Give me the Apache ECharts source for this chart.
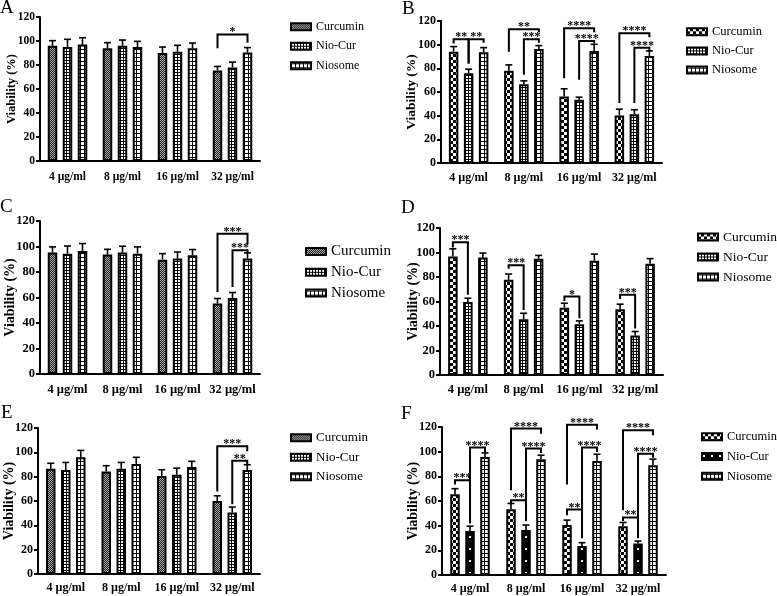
<!DOCTYPE html>
<html><head><meta charset="utf-8">
<script src="https://cdn.jsdelivr.net/npm/echarts@6/dist/echarts.min.js"></script>
<style>html,body{margin:0;padding:0;background:#fff}#c{width:777px;height:596px}</style>
</head><body><div id="c"></div><script>
// ---------- data ----------
const categories = ['4 µg/ml', '8 µg/ml', '16 µg/ml', '32 µg/ml'];
const seriesNames = ['Curcumin', 'Nio-Cur', 'Niosome'];
const panelLetters = ['A', 'B', 'C', 'D', 'E', 'F'];
const yMin = 0, yMax = 120, yStep = 20;

// Panel A
const aCurcumin = [96, 94, 90, 75.5];
const aCurcuminErr = [4.3, 4.6, 5, 3.3];
const aNioCur = [95, 96, 91, 78];
const aNioCurErr = [6.4, 4.8, 5.4, 4.4];
const aNiosome = [97, 95, 94, 90.4];
const aNiosomeErr = [5.7, 4.7, 4.3, 4.1];
// [category, from series, to series, top, left leg end, right leg end, label]
const aBrackets = [[3, 0, 2, 105.5, 94, 98.6, '*']];

// Panel B
const bCurcumin = [94.1, 77.9, 56.2, 40.2];
const bCurcuminErr = [4.3, 5, 6.5, 5.3];
const bNioCur = [75.9, 66.6, 53.4, 41.3];
const bNioCurErr = [3.4, 2.8, 2.2, 3.7];
const bNiosome = [93.6, 96.4, 94.7, 90.5];
const bNiosomeErr = [3.9, 2.8, 5.6, 4.2];
const bBrackets = [
  [0, 0, 1, 104.6, 101, 84, '**'],
  [0, 1, 2, 104.6, 84, 101.7, '**'],
  [1, 0, 2, 113, 94, 110.5, '**'],
  [1, 1, 2, 104.6, 74.5, 101.7, '***'],
  [2, 0, 2, 113.8, 71.7, 110.5, '****'],
  [2, 1, 2, 103.1, 70.3, 101.2, '****'],
  [3, 0, 2, 109.6, 50.6, 106.2, '****'],
  [3, 1, 2, 97.5, 50.6, 94.2, '****']
];

// Panel C
const cCurcumin = [95.2, 93.7, 89.7, 55.3];
const cCurcuminErr = [4.5, 4.1, 4.7, 3.9];
const cNioCur = [94.4, 95.2, 90.5, 59.7];
const cNioCurErr = [6, 5, 5.2, 4.2];
const cNiosome = [96.5, 94.4, 93.1, 90.5];
const cNiosomeErr = [5.8, 5.3, 4.5, 4.5];
const cBrackets = [
  [3, 0, 2, 110, 64.4, 102, '***'],
  [3, 1, 2, 97, 68.3, 94.5, '***']
];

// Panel D
const dCurcumin = [96.8, 77.7, 55, 53.7];
const dCurcuminErr = [6.2, 4.7, 3.6, 4.1];
const dNioCur = [59.5, 45.5, 41.5, 32.2];
const dNioCurErr = [3.2, 4.9, 2.7, 3.3];
const dNiosome = [96, 94.9, 93.3, 90.8];
const dNiosomeErr = [3.5, 2.7, 5.4, 4.2];
const dBrackets = [
  [0, 0, 1, 108.3, 104, 65.5, '***'],
  [1, 0, 1, 89.5, 86.7, 53, '***'],
  [2, 0, 1, 64, 60.5, 46.4, '*'],
  [3, 0, 1, 65.5, 62, 38, '***']
];

// Panel E
const eCurcumin = [86.5, 84.3, 80.5, 59.9];
const eCurcuminErr = [4.5, 4.7, 5.2, 4.4];
const eNioCur = [85.4, 86.5, 81.6, 50.5];
const eNioCurErr = [6.3, 5.2, 5.4, 4.5];
const eNiosome = [95.9, 90.4, 88, 85.4];
const eNiosomeErr = [5.7, 5.5, 4.6, 4.4];
const eBrackets = [
  [3, 0, 2, 105, 67.8, 100.8, '***'],
  [3, 1, 2, 93, 57.4, 89.8, '**']
];

// Panel F
const fCurcumin = [65.5, 53.4, 40.5, 39.6];
const fCurcuminErr = [4.5, 4.6, 4, 3];
const fNioCur = [35.6, 36.4, 23.5, 25.6];
const fNioCurErr = [4, 4.1, 2.7, 1.9];
const fNiosome = [95.7, 93.9, 92.5, 89];
const fNiosomeErr = [3.3, 3.2, 5.4, 4.9];
const fBrackets = [
  [0, 0, 1, 76.9, 73.4, 41.8, '***'],
  [0, 1, 2, 103.3, 50, 99.8, '****'],
  [1, 0, 2, 118.7, 68.8, 114.6, '****'],
  [1, 1, 2, 102.5, 54, 99, '****'],
  [1, 0, 1, 60.7, 57.2, 43.7, '**'],
  [2, 0, 2, 121.9, 73.4, 117.9, '****'],
  [2, 1, 2, 103.3, 41, 99.8, '****'],
  [2, 0, 1, 53.1, 48.5, 29.7, '**'],
  [3, 0, 2, 117.3, 52.6, 113.3, '****'],
  [3, 1, 2, 98.4, 31, 95, '****'],
  [3, 0, 1, 46.7, 43.7, 29.7, '**']
];

// ---------- patterns ----------
function makePattern(w, h, bg, fg, rects) {
  const c = document.createElement('canvas');
  c.width = w; c.height = h;
  const ctx = c.getContext('2d');
  ctx.fillStyle = bg; ctx.fillRect(0, 0, w, h);
  ctx.fillStyle = fg;
  rects.forEach(r => ctx.fillRect(r[0], r[1], r[2], r[3]));
  return { image: c, repeat: 'repeat' };
}
const pFine = makePattern(2, 2, '#222', '#aaa', [[0, 0, 1, 1], [1, 1, 1, 1]]);
const pGrid = makePattern(3, 3, '#000', '#fff', [[1, 1, 2, 2]]);
const pLadder = makePattern(4, 4, '#fff', '#000', [[0, 0, 1, 4], [1, 1, 3, 1]]);
const pCheck = makePattern(6, 6, '#000', '#fff', [[0, 0, 3, 3], [3, 3, 3, 3]]);
const pDots = makePattern(8, 12, '#000', '#fff', [[1, 2, 2, 2], [5, 8, 2, 2]]);

// ---------- layout ----------
const BAR_W = 9.5, BAR_GAP = 5.5, STEP = BAR_W + BAR_GAP;
const FONT = 'Liberation Serif';

const panels = [
  { means: [aCurcumin, aNioCur, aNiosome], errs: [aCurcuminErr, aNioCurErr, aNiosomeErr], brackets: aBrackets,
    pats: [pFine, pGrid, pLadder], grid: { left: 40, top: 17, width: 220, height: 144 },
    leg: { left: 290, top: 19.7, fs: 12, gap: 5.5 }, tickFs: 11.5, xMargin: 10, nameFs: 12.5, nameGap: 22, letter: { left: 0, top: -1.5 } },
  { means: [bCurcumin, bNioCur, bNiosome], errs: [bCurcuminErr, bNioCurErr, bNiosomeErr], brackets: bBrackets,
    pats: [pCheck, pGrid, pLadder], grid: { left: 441, top: 21, width: 221, height: 142 },
    leg: { left: 686, top: 24.7, fs: 12.5, gap: 5.2 }, tickFs: 12, xMargin: 9, nameFs: 13.5, nameGap: 22, letter: { left: 402, top: -0.5 } },
  { means: [cCurcumin, cNioCur, cNiosome], errs: [cCurcuminErr, cNioCurErr, cNiosomeErr], brackets: cBrackets,
    pats: [pFine, pGrid, pLadder], grid: { left: 40, top: 221, width: 220, height: 153 },
    leg: { left: 305, top: 244, fs: 15, gap: 5.8 }, tickFs: 12.5, xMargin: 9, nameFs: 14, nameGap: 23, letter: { left: 0, top: 198 } },
  { means: [dCurcumin, dNioCur, dNiosome], errs: [dCurcuminErr, dNioCurErr, dNiosomeErr], brackets: dBrackets,
    pats: [pCheck, pGrid, pLadder], grid: { left: 440, top: 228, width: 223, height: 147 },
    leg: { left: 697, top: 230, fs: 13.5, gap: 6 }, tickFs: 12.5, xMargin: 8, nameFs: 14, nameGap: 20, letter: { left: 401, top: 198.5 } },
  { means: [eCurcumin, eNioCur, eNiosome], errs: [eCurcuminErr, eNioCurErr, eNiosomeErr], brackets: eBrackets,
    pats: [pFine, pGrid, pLadder], grid: { left: 38, top: 428, width: 222, height: 146 },
    leg: { left: 290, top: 430.7, fs: 13, gap: 5.5 }, tickFs: 12, xMargin: 8, nameFs: 14, nameGap: 22, letter: { left: 1, top: 403.5 } },
  { means: [fCurcumin, fNioCur, fNiosome], errs: [fCurcuminErr, fNioCurErr, fNiosomeErr], brackets: fBrackets,
    pats: [pCheck, pDots, pLadder], grid: { left: 442, top: 427, width: 224, height: 148 },
    leg: { left: 701, top: 429.7, fs: 12.5, gap: 5.8 }, tickFs: 12, xMargin: 8, nameFs: 14, nameGap: 22, letter: { left: 401, top: 404.5 } }
];

const option = { animation: false, backgroundColor: '#fff', title: [], grid: [], xAxis: [], yAxis: [], legend: [], series: [] };

panels.forEach((p, i) => {
  const letter = panelLetters[i];
  option.title.push({ text: letter, left: p.letter.left, top: p.letter.top, padding: 0,
    textStyle: { fontFamily: FONT, fontSize: 19, fontWeight: 'normal', color: '#000' } });
  option.grid.push(Object.assign({ containLabel: false }, p.grid));
  option.xAxis.push({
    type: 'category', gridIndex: i, data: categories,
    axisLine: { lineStyle: { color: '#000', width: 2 } },
    axisTick: { alignWithLabel: true, length: 5, lineStyle: { color: '#000', width: 2 } },
    axisLabel: { color: '#000', fontFamily: FONT, fontWeight: 'bold', fontSize: p.tickFs, margin: p.xMargin, interval: 0 },
    splitLine: { show: false }
  });
  option.yAxis.push({
    type: 'value', gridIndex: i, min: yMin, max: yMax, interval: yStep,
    name: 'Viability (%)', nameLocation: 'middle', nameGap: p.nameGap, nameMoveOverlap: false,
    nameTextStyle: { color: '#000', fontFamily: FONT, fontWeight: 'bold', fontSize: p.nameFs },
    axisLine: { show: true, lineStyle: { color: '#000', width: 2 } },
    axisTick: { show: true, length: 4, lineStyle: { color: '#000', width: 2 } },
    axisLabel: { color: '#000', fontFamily: FONT, fontWeight: 'bold', fontSize: p.tickFs, margin: 5 },
    splitLine: { show: false }
  });
  const legendNames = [];
  seriesNames.forEach((sn, s) => {
    const nm = letter + '|' + sn;
    legendNames.push(nm);
    option.series.push({
      type: 'bar', name: nm, xAxisIndex: i, yAxisIndex: i, data: p.means[s],
      barWidth: BAR_W, barGap: (BAR_GAP / BAR_W * 100) + '%', z: 2,
      itemStyle: { color: p.pats[s], borderColor: '#000', borderWidth: 2 }
    });
  });
  option.legend.push({
    orient: 'vertical', left: p.leg.left, top: p.leg.top, padding: 0,
    itemWidth: 20, itemHeight: 7, itemGap: p.leg.gap, icon: 'rect', selectedMode: false,
    data: legendNames, formatter: n => n.split('|')[1],
    textStyle: { fontFamily: FONT, fontSize: p.leg.fs, color: '#000', lineHeight: 14 }
  });
  // error bars (upper only)
  const errData = [];
  p.means.forEach((arr, s) => arr.forEach((v, c) => errData.push([c, s, v, p.errs[s][c]])));
  option.series.push({
    type: 'custom', xAxisIndex: i, yAxisIndex: i, z: 3, silent: true, clip: false,
    encode: { x: 0, y: 2 }, data: errData,
    renderItem: (params, api) => {
      const c = api.value(0), s = api.value(1), v = api.value(2), e = api.value(3);
      const p0 = api.coord([c, v]), p1 = api.coord([c, v + e]);
      const x = p0[0] + (s - 1) * STEP;
      const st = { stroke: '#000', lineWidth: 1.6 };
      return { type: 'group', children: [
        { type: 'line', shape: { x1: x, y1: p0[1], x2: x, y2: p1[1] }, style: st },
        { type: 'line', shape: { x1: x - 3.5, y1: p1[1], x2: x + 3.5, y2: p1[1] }, style: st }
      ] };
    }
  });
  // significance brackets
  const br = p.brackets;
  option.series.push({
    type: 'custom', xAxisIndex: i, yAxisIndex: i, z: 4, silent: true, clip: false,
    encode: { x: 0, y: 3 }, data: br.map(b => b.slice(0, 6)),
    renderItem: (params, api) => {
      const b = br[params.dataIndex];
      const top = api.coord([b[0], b[3]]);
      const yl = api.coord([b[0], b[4]])[1], yr = api.coord([b[0], b[5]])[1];
      const x1 = top[0] + (b[1] - 1) * STEP, x2 = top[0] + (b[2] - 1) * STEP;
      return { type: 'group', children: [
        { type: 'polyline', shape: { points: [[x1, yl], [x1, top[1]], [x2, top[1]], [x2, yr]] },
          style: { stroke: '#000', lineWidth: 2, fill: null } },
        { type: 'text', x: (x1 + x2) / 2, y: top[1] - 2,
          style: { text: b[6], fontFamily: FONT, fontWeight: 'bold', fontSize: 12, fill: '#000',
                   align: 'center', verticalAlign: 'middle' } }
      ] };
    }
  });
});

const chart = echarts.init(document.getElementById('c'), null, { renderer: 'canvas' });
chart.setOption(option);
</script></body></html>
